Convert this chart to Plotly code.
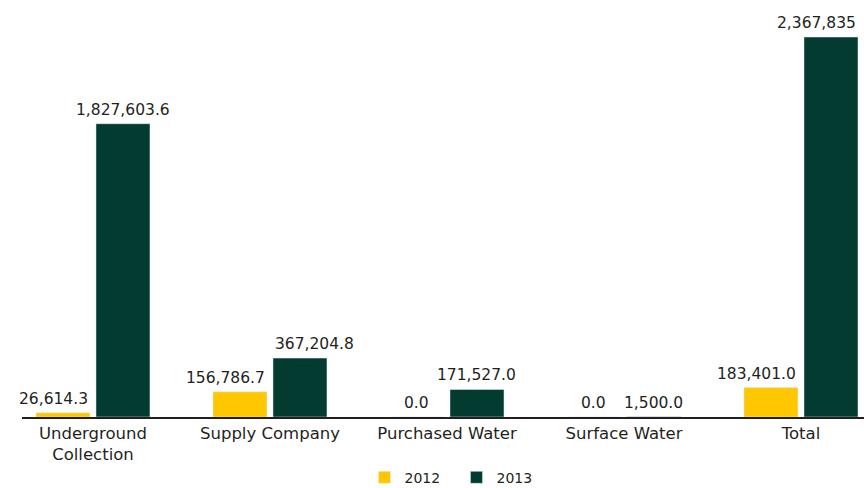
import plotly.graph_objects as go

categories = ["Underground<br>Collection", "Supply Company", "Purchased Water", "Surface Water", "Total"]
values_2012 = [26614.3, 156786.7, 0.0, 0.0, 183401.0]
values_2013 = [1827603.6, 367204.8, 171527.0, 1500.0, 2367835]
labels_2012 = ["26,614.3", "156,786.7", "0.0", "0.0", "183,401.0"]
labels_2013 = ["1,827,603.6", "367,204.8", "171,527.0", "1,500.0", "2,367,835"]

# label alignment (style): where each value label sits relative to its bar
align_2012 = ["right", "right", "center", "center", "right"]
align_2013 = ["center", "left", "center", "center", "right"]

YELLOW = "#FFC700"
GREEN = "#033B31"
TXT = "#231F20"
FONT = "DejaVu Sans"
BARGAP = 0.322
GROUPGAP = 0.1

fig = go.Figure()
fig.add_trace(go.Bar(x=categories, y=values_2012, name="2012", marker_color=YELLOW))
fig.add_trace(go.Bar(x=categories, y=values_2013, name="2013", marker_color=GREEN))

slot = (1 - BARGAP) / 2
half_bar = slot * (1 - GROUPGAP) / 2
annotations = []
for vals, labs, aligns, side in [(values_2012, labels_2012, align_2012, -1),
                                 (values_2013, labels_2013, align_2013, 1)]:
    for i, (v, lab, al) in enumerate(zip(vals, labs, aligns)):
        center = i + side * slot / 2
        if al == "right":
            xpos = center + half_bar
        elif al == "left":
            xpos = center - half_bar
        else:
            xpos = center
        annotations.append(dict(x=xpos, y=v, xref="x", yref="y", text=lab,
                                showarrow=False, xanchor=al, yanchor="bottom",
                                yshift=3, font=dict(size=15.5, color=TXT, family=FONT)))

fig.update_layout(
    width=864, height=488,
    margin=dict(l=22, r=0, t=20, b=71, autoexpand=False),
    paper_bgcolor="white", plot_bgcolor="white",
    barmode="group", bargap=BARGAP, bargroupgap=GROUPGAP,
    font=dict(family=FONT, size=15, color=TXT),
    showlegend=True,
    legend=dict(orientation="h", x=0.516, xanchor="center", y=-0.153, yanchor="middle",
                font=dict(size=14, color=TXT, family=FONT), entrywidth=47,
                entrywidthmode="pixels", traceorder="normal"),
    annotations=annotations,
)
fig.update_xaxes(range=[-0.401, 4.356], showline=True, linecolor=TXT, linewidth=1.5,
                 ticks="", automargin=False, tickfont=dict(size=16.5, color=TXT, family=FONT),
                 showgrid=False)
fig.update_yaxes(range=[0, 2474000], visible=False, showgrid=False, zeroline=False,
                 automargin=False)

fig.write_html("out.html")
